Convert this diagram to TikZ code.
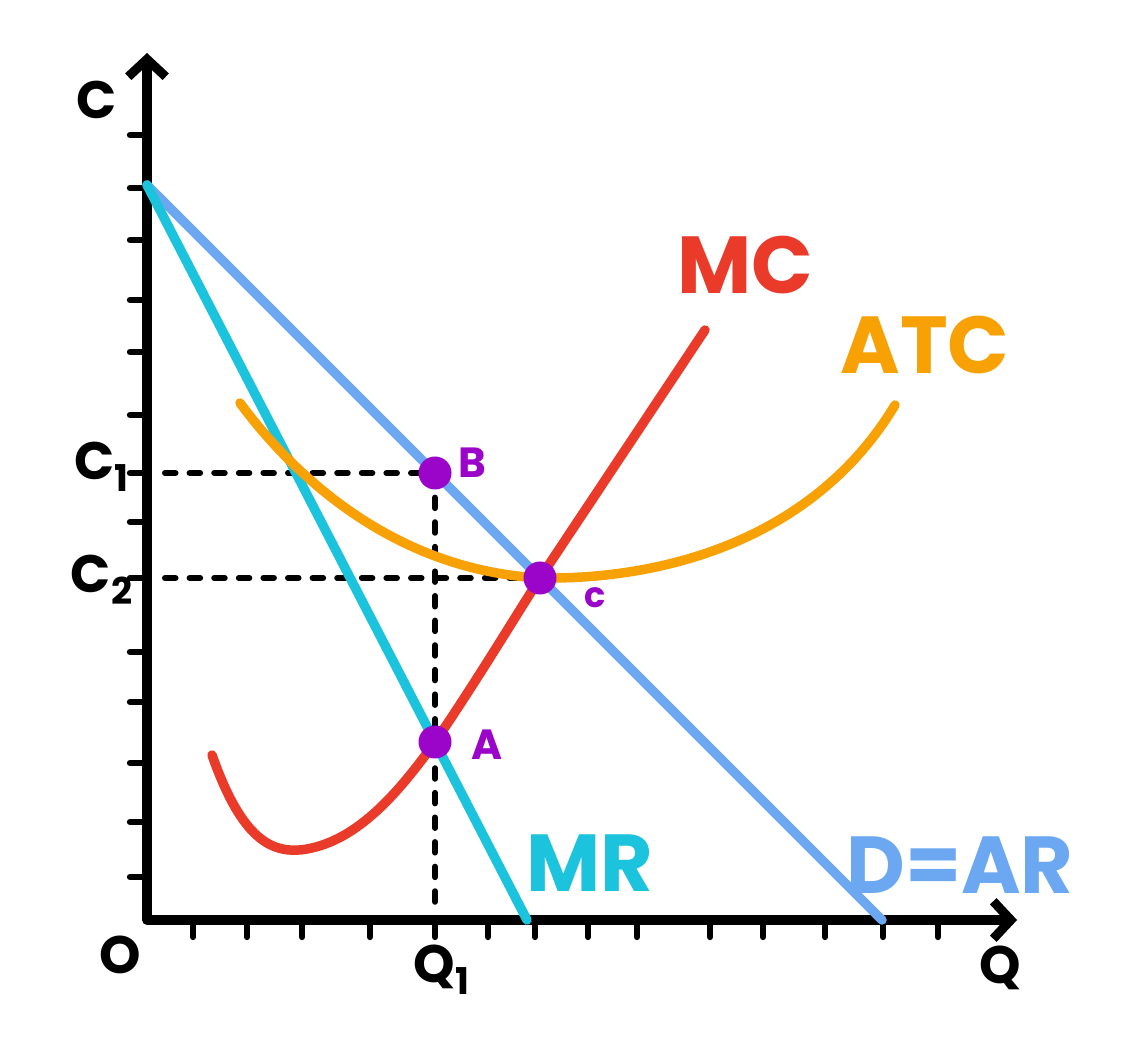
\documentclass[tikz,border=0pt]{standalone}
\usepackage{fontspec}
\setmainfont{Poppins}
\usetikzlibrary{arrows.meta}
\definecolor{dcol}{HTML}{6CA8F2}
\definecolor{mrcol}{HTML}{1CC3DD}
\definecolor{mccol}{HTML}{EA3A2A}
\definecolor{atccol}{HTML}{F7A105}
\definecolor{ptcol}{HTML}{9A05C9}
\begin{document}
\begin{tikzpicture}[line join=round, line cap=round, >={Straight Barb[length=3.5mm,width=7.5mm]},
  curve/.style={line width=5.4pt},
  guide/.style={line width=3.4pt, dash pattern=on 6pt off 8pt},
  dot/.style={circle, fill=ptcol, inner sep=0pt, minimum size=0.66cm},
  big/.style={font=\fontsize{46}{46}\selectfont\bfseries},
  mid/.style={font=\fontsize{30}{30}\selectfont\bfseries},
  small/.style={font=\fontsize{24}{24}\selectfont\bfseries, text=ptcol}]
\useasboundingbox (-2.94,-2.7) rectangle (19.9,18.4);
\coordinate (O) at (0,0);
\coordinate (ytop) at (0,17.34);
\coordinate (xend) at (17.4,0);
\coordinate (top) at (0,14.7);
\coordinate (dend) at (14.7,0);
\coordinate (mrend) at (7.6,0);
\coordinate (c1) at (0.36,8.94);
\coordinate (c2) at (0.36,6.84);
\coordinate (q1) at (5.76,0.25);
\coordinate (pB) at (5.76,8.94);
\coordinate (pC) at (7.86,6.84);
\coordinate (pA) at (5.76,3.56);
\draw[line width=5.2pt,<->] (ytop)--(O)--(xend);
\foreach \y in {15.7,14.64,13.6,12.4,11.36,10.1,8.94,7.96,6.84,5.36,4.36,3.14,1.96,0.86}
  \draw[line width=3.6pt] (-0.34,\y)--(0,\y);
\foreach \x in {0.92,2.0,3.1,4.46,5.76,6.82,7.76,8.82,9.8,11.26,12.32,13.56,14.72,15.82}
  \draw[line width=3.6pt] (\x,0)--(\x,-0.34);
\draw[guide] (c1)--(pB) (pB)--(q1) (c2)--(pC);
\draw[curve, dcol] (top)--(dend);
\draw[curve, mrcol] (top)--(mrend);
\draw[curve, atccol] (1.86,10.34) .. controls (3.0,8.8) and (5.0,7.0) .. (pC)
  .. controls (10.5,6.8) and (13.4,7.7) .. (14.96,10.3);
\draw[curve, mccol] (1.3,3.3) .. controls (1.9,1.6) and (2.5,1.3) .. (3.2,1.42)
  .. controls (4.2,1.6) and (5.0,2.5) .. (pA) .. controls (6.6,4.8) and (7.2,5.8) .. (pC) -- (11.16,11.8);
\node[dot] (B) at (pB) {};
\node[dot] (C) at (pC) {};
\node[dot] (A) at (pA) {};
\node[small] (labB) at (6.5,9.14) {B};
\node[small, font=\fontsize{20}{20}\selectfont\bfseries] (labC) at (8.96,6.44) {c};
\node[small] (labA) at (6.8,3.5) {A};
\node[mid] (labCax) at (-1.0,16.4) {C};
\node[mid] (labO) at (-0.54,-0.7) {O};
\node[mid] (labQ) at (17.06,-0.96) {Q};
\node[mid] (labQ1) at (5.9,-1.0) {Q\textsubscript{1}};
\node[mid] (labC1) at (-0.9,9.06) {C\textsubscript{1}};
\node[mid] (labC2) at (-0.9,6.8) {C\textsubscript{2}};
\node[big, text=mccol] (labMC) at (11.96,13.1) {MC};
\node[big, text=atccol] (labATC) at (15.56,11.5) {ATC};
\node[big, text=mrcol] (labMR) at (8.86,1.14) {MR};
\node[big, text=dcol] (labD) at (16.26,1.1) {D=AR};
\end{tikzpicture}
\end{document}
